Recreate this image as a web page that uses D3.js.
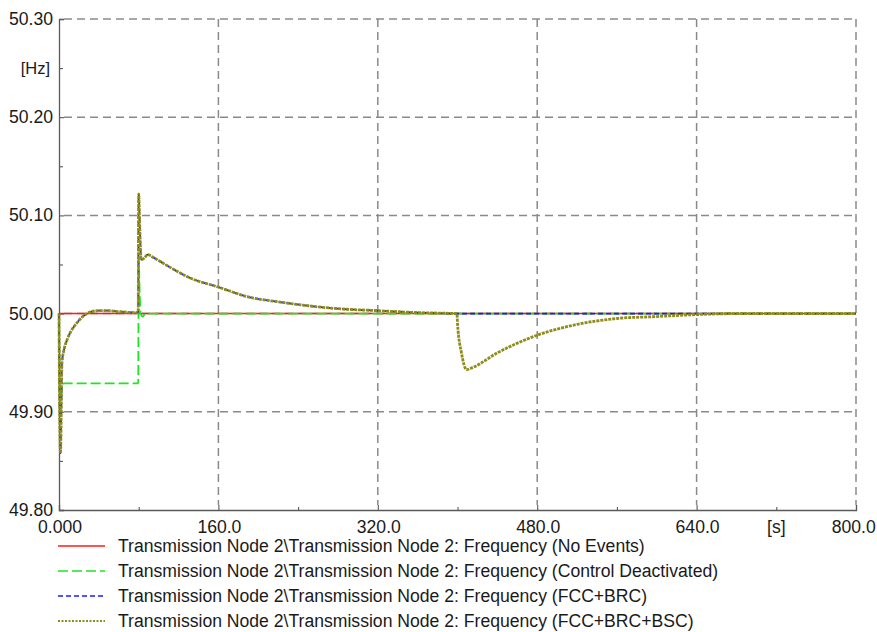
<!DOCTYPE html>
<html>
<head>
<meta charset="utf-8">
<script src="https://cdn.jsdelivr.net/npm/d3@7"></script>
<style>
  html, body { margin: 0; padding: 0; background: #fff; overflow: hidden; }
  svg { display: block; font-family: "Liberation Sans", Arial, sans-serif; }
</style>
</head>
<body>
<svg id="chart" width="877" height="632"></svg>
<script>
// Frequency at Transmission Node 2 for four simulation cases (time in s, frequency in Hz)
const noEventsT = [0, 800];
const noEventsF = [50.000, 50.000];

const ctrlOffT = [0, 0.5, 1.5, 3, 5, 79.5, 80, 81, 82, 84, 87, 800];
const ctrlOffF = [50.000, 49.940, 49.900, 49.925, 49.929, 49.929, 50.056, 50.020, 50.000, 49.997, 50.000, 50.000];

const fccBrcT = [0, 0.5, 1.5, 3, 5, 8, 12, 16, 20, 25, 30, 40, 50, 60, 79.5, 80, 81, 82.5, 85, 89, 95, 110, 130, 160, 190, 220, 250, 280, 320, 360, 400, 800];
const fccBrcF = [50.000, 49.920, 49.858, 49.950, 49.963, 49.973, 49.982, 49.988, 49.993, 49.998, 50.001, 50.003, 50.003, 50.002, 50.001, 50.122, 50.090, 50.055, 50.056, 50.060, 50.057, 50.048, 50.037, 50.027, 50.017, 50.012, 50.008, 50.005, 50.003, 50.001, 50.000, 50.000];

const fccBrcBscT = [0, 0.5, 1.5, 3, 5, 8, 12, 16, 20, 25, 30, 40, 50, 60, 79.5, 80, 81, 82.5, 85, 89, 95, 110, 130, 160, 190, 220, 250, 280, 320, 360, 399.5, 400, 404, 409, 415, 440, 480, 520, 560, 600, 640, 680, 800];
const fccBrcBscF = [50.000, 49.920, 49.858, 49.950, 49.963, 49.973, 49.982, 49.988, 49.993, 49.998, 50.001, 50.003, 50.003, 50.002, 50.001, 50.122, 50.090, 50.055, 50.056, 50.060, 50.057, 50.048, 50.037, 50.027, 50.017, 50.012, 50.008, 50.005, 50.003, 50.001, 50.000, 49.990, 49.960, 49.943, 49.945, 49.960, 49.978, 49.989, 49.995, 49.997, 49.999, 50.000, 50.000];

const xTicks = [0, 160, 320, 480, 640, 800];
const xTickLabels = ["0.000", "160.0", "320.0", "480.0", "640.0", "800.0"];
const xMinorTicks = [80, 240, 400, 560, 720];
const yTicks = [49.80, 49.90, 50.00, 50.10, 50.20, 50.30];
const yTickLabels = ["49.80", "49.90", "50.00", "50.10", "50.20", "50.30"];
const yMinorTicks = [49.85, 49.95, 50.05, 50.15, 50.25];
const legendLabels = [
  "Transmission Node 2\\Transmission Node 2: Frequency (No Events)",
  "Transmission Node 2\\Transmission Node 2: Frequency (Control Deactivated)",
  "Transmission Node 2\\Transmission Node 2: Frequency (FCC+BRC)",
  "Transmission Node 2\\Transmission Node 2: Frequency (FCC+BRC+BSC)"
];

const series = [
  { t: noEventsT, f: noEventsF, color: "#ff1a1a", width: 1.5, dash: null, legendDash: null },
  { t: ctrlOffT, f: ctrlOffF, color: "#1ee61e", width: 1.8, dash: "10,4", legendDash: "10,4" },
  { t: fccBrcT, f: fccBrcF, color: "#1a1aff", width: 1.8, dash: "5,3", legendDash: "5,3" },
  { t: fccBrcBscT, f: fccBrcBscF, color: "#8f8c1a", width: 2.8, dash: "3,1", legendDash: "2,1.5" }
];

const W = 877;
const svg = d3.select("#chart");
const x = d3.scaleLinear().domain([0, 800]).range([59, 856]);
const y = d3.scaleLinear().domain([49.80, 50.30]).range([510, 19]);

const gridColor = "#8a8a8a";
const axisColor = "#5a5a5a";
const textColor = "#1a1a1a";
const fontSize = 17.6;

// dashed grid
const grid = svg.append("g");
grid.selectAll("line.h").data(yTicks.filter(v => v > 49.85)).join("line")
  .attr("x1", x(0) + 5).attr("x2", x(800))
  .attr("y1", d => y(d)).attr("y2", d => y(d))
  .attr("stroke", gridColor).attr("stroke-width", 1.5).attr("stroke-dasharray", "8,5");
grid.selectAll("line.v").data(xTicks.filter(v => v > 0)).join("line")
  .attr("x1", d => x(d)).attr("x2", d => x(d))
  .attr("y1", y(50.30)).attr("y2", y(49.80) - 5)
  .attr("stroke", gridColor).attr("stroke-width", 1.5).attr("stroke-dasharray", "8,5");

// axes
const xAxis = d3.axisBottom(x).tickValues(xTicks).tickSize(-5).tickFormat("");
const xAxisMinor = d3.axisBottom(x).tickValues(xMinorTicks).tickSize(-3).tickFormat("");
const yAxis = d3.axisLeft(y).tickValues(yTicks).tickSize(-5).tickFormat("");
const yAxisMinor = d3.axisLeft(y).tickValues(yMinorTicks).tickSize(-4).tickFormat("");

function styleAxis(g) {
  g.select(".domain").attr("stroke", axisColor).attr("stroke-width", 1.3);
  g.selectAll(".tick line").attr("stroke", axisColor).attr("stroke-width", 1.1);
}
svg.append("g").attr("transform", `translate(0,${y(49.80)})`).call(xAxis).call(styleAxis);
svg.append("g").attr("transform", `translate(0,${y(49.80)})`).call(xAxisMinor).call(g => g.select(".domain").remove()).call(styleAxis);
svg.append("g").attr("transform", `translate(${x(0)},0)`).call(yAxis).call(styleAxis);
svg.append("g").attr("transform", `translate(${x(0)},0)`).call(yAxisMinor).call(g => g.select(".domain").remove()).call(styleAxis);

// tick labels (the last one is pulled in so it stays inside the page)
svg.append("g").selectAll("text").data(xTicks).join("text")
  .attr("x", d => x(d) + 1).attr("y", 533)
  .attr("text-anchor", "middle").attr("font-size", fontSize).attr("fill", textColor)
  .text((d, i) => xTickLabels[i])
  .each(function () {
    const b = this.getBBox();
    if (b.x + b.width > W - 1) d3.select(this).attr("x", +d3.select(this).attr("x") - (b.x + b.width - (W - 1)));
  });
svg.append("g").selectAll("text").data(yTicks).join("text")
  .attr("x", 53).attr("y", d => y(d) + 6)
  .attr("text-anchor", "end").attr("font-size", fontSize).attr("fill", textColor)
  .text((d, i) => yTickLabels[i]);

// units
svg.append("text").attr("x", 50).attr("y", y(50.25) + 6)
  .attr("text-anchor", "end").attr("font-size", 16.5).attr("fill", textColor).text("[Hz]");
svg.append("text").attr("x", x(720)).attr("y", 533)
  .attr("text-anchor", "middle").attr("font-size", fontSize).attr("fill", textColor).text("[s]");

// curves
const plot = svg.append("g");
series.forEach(s => {
  const pts = s.t.map((t, i) => [t, s.f[i]]);
  plot.append("path")
    .datum(pts)
    .attr("d", d3.line().x(d => x(d[0])).y(d => y(d[1])).curve(d3.curveMonotoneX))
    .attr("fill", "none")
    .attr("stroke", s.color)
    .attr("stroke-width", s.width)
    .attr("stroke-dasharray", s.dash)
    .attr("stroke-linejoin", "round");
});

// legend
const legend = svg.append("g");
const rowY = [546, 571, 596, 621];
series.forEach((s, i) => {
  legend.append("line")
    .attr("x1", 58).attr("x2", 105).attr("y1", rowY[i]).attr("y2", rowY[i])
    .attr("stroke", s.color).attr("stroke-width", i === 3 ? 2 : 1.6)
    .attr("stroke-dasharray", s.legendDash);
  legend.append("text")
    .attr("x", 118).attr("y", rowY[i] + 6)
    .attr("font-size", fontSize).attr("fill", textColor)
    .text(legendLabels[i]);
});
</script>
</body>
</html>
